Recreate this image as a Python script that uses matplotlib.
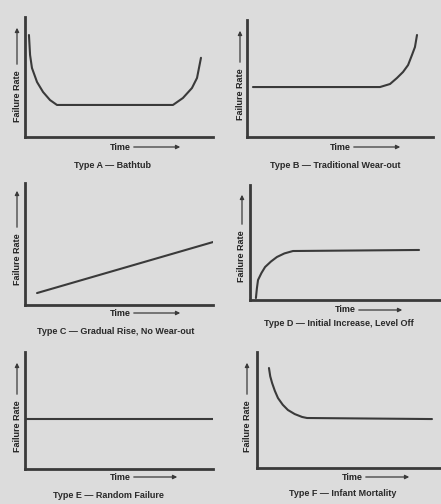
import matplotlib
matplotlib.use("Agg")
import matplotlib.pyplot as plt

plt.rcParams['font.family'] = ['Liberation Sans Narrow', 'Liberation Sans', 'DejaVu Sans']

W, H = 441, 504

# failure-rate curves, time 0-10 vs rate 0-10
a_time = [0.21, 0.27, 0.37, 0.64, 0.96, 1.33, 1.7, 7.6, 7.87, 8.4, 8.88, 9.15, 9.36]
a_rate = [8.5, 6.83, 5.75, 4.58, 3.75, 3.08, 2.67, 2.67, 2.67, 3.25, 4.08, 4.92, 6.6]

b_time = [0.32, 7.15, 7.69, 8.06, 8.39, 8.66, 8.87, 9.03, 9.14]
b_rate = [4.27, 4.27, 4.53, 5.04, 5.56, 6.15, 7.01, 7.69, 8.72]

c_time = [0.64, 10.0]
c_rate = [0.98, 5.16]

d_time = [0.31, 0.36, 0.42, 0.6, 0.79, 1.1, 1.41, 1.8, 2.25, 8.85]
d_rate = [0.17, 1.0, 1.74, 2.35, 2.87, 3.35, 3.74, 4.05, 4.26, 4.35]

e_time = [0.0, 10.0]
e_rate = [4.27, 4.27]

f_time = [0.65, 0.72, 0.82, 0.97, 1.14, 1.4, 1.68, 2.05, 2.45, 2.72, 9.51]
f_rate = [8.62, 7.9, 7.33, 6.65, 6.03, 5.45, 5.0, 4.65, 4.4, 4.31, 4.22]

titles = ["Type A \u2014 Bathtub", "Type B \u2014 Traditional Wear-out",
          "Type C \u2014 Gradual Rise, No Wear-out", "Type D \u2014 Initial Increase, Level Off",
          "Type E \u2014 Random Failure", "Type F \u2014 Infant Mortality"]

curves = [(a_time, a_rate), (b_time, b_rate), (c_time, c_rate),
          (d_time, d_rate), (e_time, e_rate), (f_time, f_rate)]

# panel layout in pixels: left, right, top, bottom of axes
boxes = [(25, 213, 17, 137), (247, 433, 20, 137),
         (25, 213, 183, 305), (250, 441, 185, 300),
         (25, 213, 352, 469), (257, 441, 352, 468)]
title_pos = [(112, 165), (335, 165), (116, 331), (339, 324), (108, 495), (343, 494)]
time_pos = [(110, 147, 183), (330, 147, 403), (110, 313, 183),
            (335, 310, 405), (110, 477, 180), (342, 477, 412)]
rate_pos = [(17, 122, 25), (240, 120, 28), (17, 285, 188),
            (242, 282, 192), (17, 452, 360), (247, 452, 360)]

ink = '#3a3a3a'

fig = plt.figure(figsize=(W / 100, H / 100), dpi=100, facecolor='#dcdcdc')


def fx(px):
    return px / W


def fy(py):
    return 1 - py / H


for i in range(6):
    l, r, t, b = boxes[i]
    ax = fig.add_axes([fx(l), fy(b), fx(r) - fx(l), fy(t) - fy(b)])
    ax.set_facecolor('none')
    ax.plot(curves[i][0], curves[i][1], color=ink, lw=1.5,
            solid_capstyle='round', solid_joinstyle='round')
    ax.set_xlim(0, 10)
    ax.set_ylim(0, 10)
    ax.set_xticks([])
    ax.set_yticks([])
    for s in ['top', 'right']:
        ax.spines[s].set_visible(False)
    for s in ['left', 'bottom']:
        ax.spines[s].set_color(ink)
        ax.spines[s].set_linewidth(2)

    # title
    tx, ty = title_pos[i]
    fig.text(fx(tx), fy(ty), titles[i], ha='center', va='center',
             fontsize=6.5, color='#2a2a2a', fontweight='bold')

    # Time ---->
    x0, y0, x1 = time_pos[i]
    fig.text(fx(x0), fy(y0), "Time", ha='left', va='center', fontsize=6.5,
             color='#222222', fontweight='bold')
    fig.add_artist(matplotlib.patches.FancyArrowPatch(
        (fx(x0 + 21), fy(y0)), (fx(x1), fy(y0)), transform=fig.transFigure,
        arrowstyle='-|>', mutation_scale=6, color=ink, lw=0.9))

    # Failure Rate ---->
    rx, rb, rt = rate_pos[i]
    fig.text(fx(rx), fy(rb), "Failure Rate", ha='center', va='bottom', rotation=90,
             fontsize=6.5, color='#222222', fontweight='bold')
    fig.add_artist(matplotlib.patches.FancyArrowPatch(
        (fx(rx), fy(rb - 55)), (fx(rx), fy(rt)), transform=fig.transFigure,
        arrowstyle='-|>', mutation_scale=6, color=ink, lw=0.9))

fig.savefig("out.png", dpi=100, facecolor=fig.get_facecolor())
